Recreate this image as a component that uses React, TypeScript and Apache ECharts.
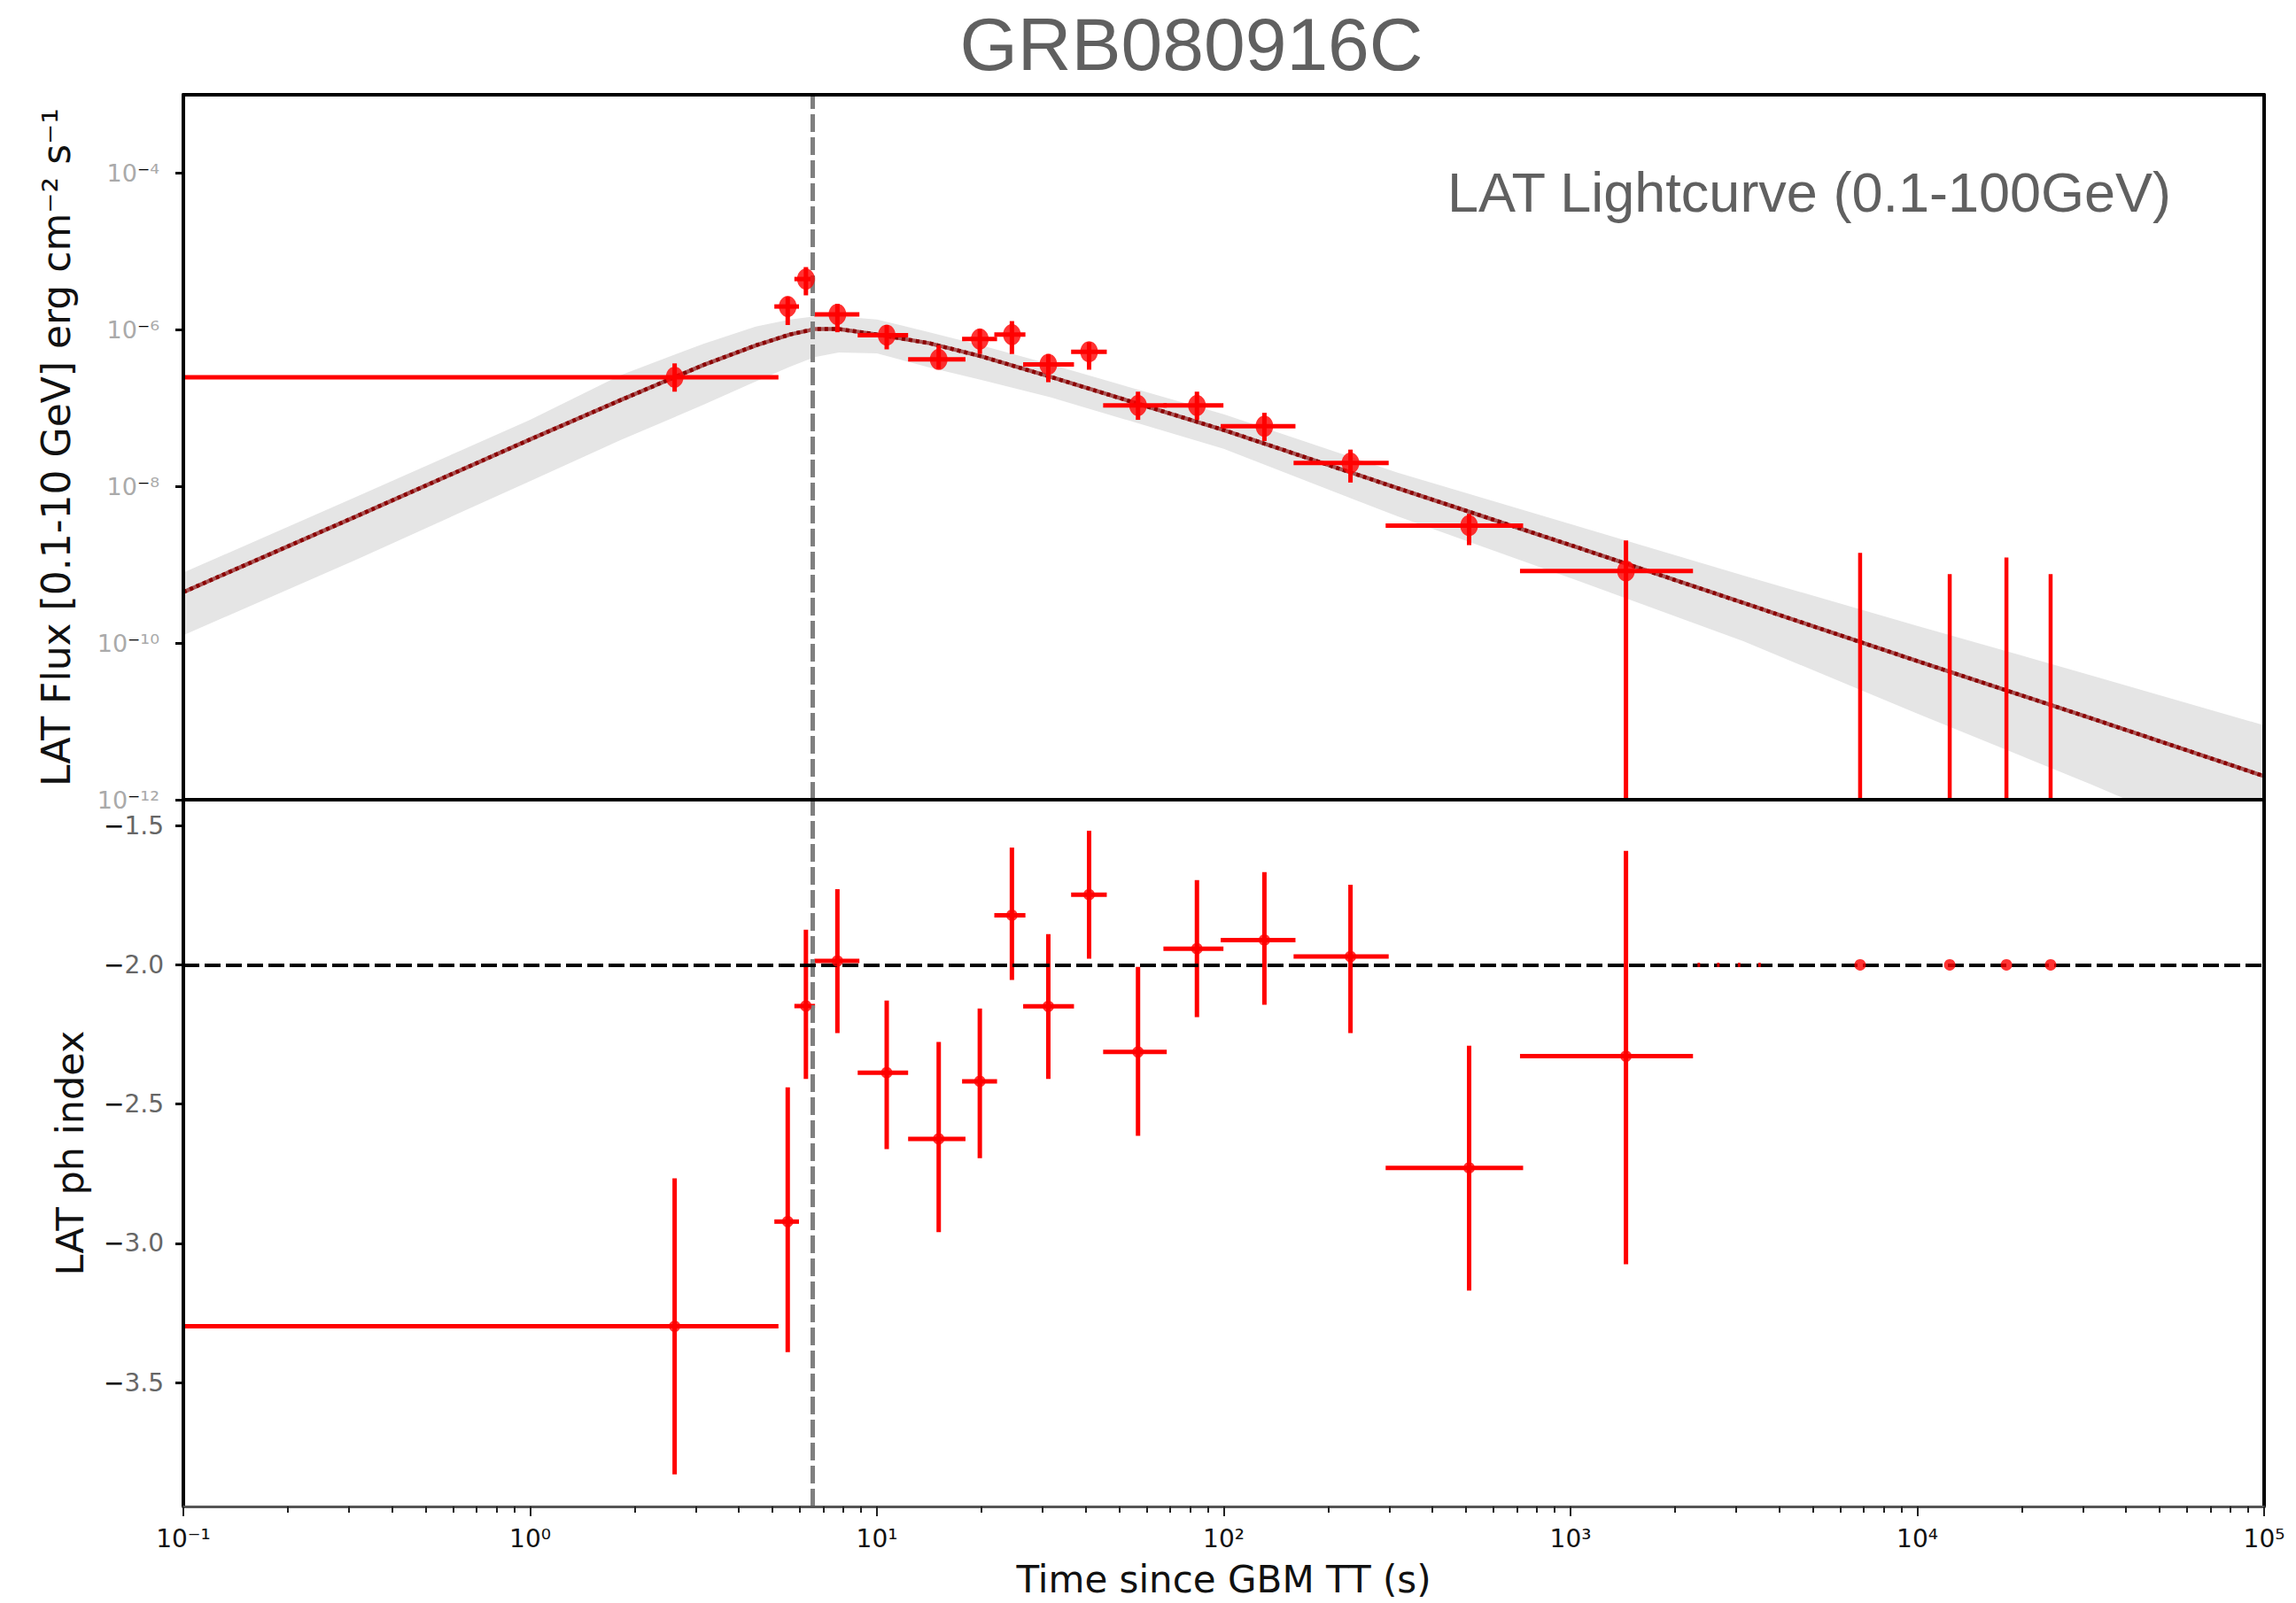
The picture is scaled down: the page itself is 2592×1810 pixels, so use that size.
import React, { useEffect, useRef } from "react";
import * as echarts from "echarts";

// ---------------- axes ----------------
const TIME_MIN = 0.1;
const TIME_MAX = 1e5;
const TIME_MAJOR_TICKS = [0.1, 1, 10, 100, 1000, 10000, 100000];
const TIME_DECADES = [0.1, 1, 10, 100, 1000, 10000];
const MINOR_MULTIPLIERS = [2, 3, 4, 5, 6, 7, 8, 9];
const TIME_MINOR_TICKS = TIME_DECADES.flatMap((d) => MINOR_MULTIPLIERS.map((m) => +(d * m).toPrecision(6)));

const FLUX_MIN = 1e-12;
const FLUX_MAX = 1e-3;
const FLUX_TICKS = [1e-12, 1e-10, 1e-8, 1e-6, 1e-4];

const INDEX_MIN = -3.945;
const INDEX_MAX = -1.407;
const INDEX_TICKS = [-3.5, -3.0, -2.5, -2.0, -1.5];
const INDEX_REFERENCE = -2.0;

const T_BREAK = 6.53;

// ---------------- time bins ----------------
const T_MID = [2.61, 5.53, 6.24, 7.69, 10.67, 15.07, 19.8, 24.5, 31.2, 40.9, 56.6, 83.7, 131, 232, 510, 1445];
const T_LO = [0.1, 5.06, 5.78, 6.6, 8.8, 12.3, 17.6, 21.8, 26.4, 36.3, 44.9, 67.0, 98, 159, 293, 715];
const T_HI = [5.2, 5.96, 6.63, 8.9, 12.3, 18.0, 22.2, 26.8, 37.0, 46.0, 68.5, 99.8, 161, 299, 730, 2255];

// ---------------- LAT flux ----------------
const FLUX = [2.48e-7, 1.98e-6, 4.44e-6, 1.57e-6, 8.53e-7, 4.18e-7, 7.6e-7, 8.67e-7, 3.61e-7, 5.24e-7, 1.08e-7, 1.08e-7, 5.87e-8, 1.99e-8, 3.16e-9, 8.32e-10];
const FLUX_LO = [1.62e-7, 1.15e-6, 2.75e-6, 9.3e-7, 5.62e-7, 3.16e-7, 4.9e-7, 4.9e-7, 2.14e-7, 3.09e-7, 7.08e-8, 7.08e-8, 3.8e-8, 1.12e-8, 1.78e-9, 1e-12];
const FLUX_HI = [3.72e-7, 2.63e-6, 6.31e-6, 2.14e-6, 1.15e-6, 6.31e-7, 1.02e-6, 1.29e-6, 4.9e-7, 6.92e-7, 1.62e-7, 1.62e-7, 8.71e-8, 2.95e-8, 4.47e-9, 2.04e-9];

// upper limits
const UL_T = [6840, 12400, 18070, 24230];
const UL_FLUX = [1.42e-9, 7.59e-10, 1.24e-9, 7.59e-10];
const UL_INDEX = [-2.0, -2.0, -2.0, -2.0];

// faint marks on the reference index line
const FAINT_T = [2344, 2667, 3063, 3508];
const FAINT_INDEX = [-2.0, -2.0, -2.0, -2.0];

// ---------------- photon index ----------------
const INDEX = [-3.298, -2.922, -2.148, -1.986, -2.387, -2.625, -2.418, -1.822, -2.149, -1.748, -2.313, -1.942, -1.911, -1.97, -2.729, -2.328];
const INDEX_LO = [-3.83, -3.391, -2.41, -2.245, -2.662, -2.96, -2.694, -2.054, -2.41, -1.978, -2.614, -2.188, -2.143, -2.245, -3.17, -3.075];
const INDEX_HI = [-2.767, -2.44, -1.874, -1.728, -2.128, -2.277, -2.157, -1.579, -1.89, -1.518, -2.007, -1.696, -1.667, -1.712, -2.29, -1.591];

// ---------------- model (broken power law) + band ----------------
const MODEL_T = [0.1, 0.316, 1, 1.82, 3.16, 4.47, 5.62, 6.61, 7.76, 10, 14.1, 20, 31.6, 100, 316, 1000, 3162, 10000, 31623, 100000];
const MODEL_FLUX = [4.47e-10, 4.17e-9, 3.98e-8, 1.26e-7, 3.55e-7, 6.31e-7, 8.71e-7, 1.02e-6, 1.02e-6, 8.71e-7, 6.76e-7, 4.57e-7, 2.51e-7, 5.25e-8, 9.55e-9, 1.78e-9, 3.24e-10, 5.89e-11, 1.1e-11, 2.0e-12];
const BAND_HI = [7.94e-10, 7.41e-9, 7.08e-8, 2.63e-7, 6.61e-7, 1.1e-6, 1.35e-6, 1.48e-6, 1.48e-6, 1.35e-6, 9.33e-7, 6.31e-7, 3.63e-7, 8.32e-8, 1.51e-8, 3.31e-9, 7.24e-10, 1.66e-10, 3.89e-11, 8.91e-12];
const BAND_LO = [1.26e-10, 1.17e-9, 1.17e-8, 3.89e-8, 1.1e-7, 2.19e-7, 3.39e-7, 4.47e-7, 5.13e-7, 5.01e-7, 3.31e-7, 2.29e-7, 1.38e-7, 3.02e-8, 4.17e-9, 6.76e-10, 1.05e-10, 1.26e-11, 1.58e-12, 1.78e-13];

// ---------------- styles ----------------
const RED = "#ff0000";
const AXIS_FONT = "DejaVu Sans";
const TITLE_FONT = "Liberation Sans";

const SUP: Record<string, string> = {
  "0": "⁰", "1": "¹", "2": "²", "3": "³", "4": "⁴",
  "5": "⁵", "6": "⁶", "7": "⁷", "8": "⁸", "9": "⁹", "-": "⁻",
};
const toSup = (s: string) => s.split("").map((c) => SUP[c] ?? c).join("");
const exp10 = (v: number) => Math.round(Math.log10(v));

function errorBarRender(lineWidth: number) {
  return (params: any, api: any) => {
    const x = api.value(0), xl = api.value(1), xh = api.value(2);
    const y = api.value(3), yl = api.value(4), yh = api.value(5);
    const pL = api.coord([xl, y]);
    const pR = api.coord([xh, y]);
    const pB = api.coord([x, yl]);
    const pT = api.coord([x, yh]);
    return {
      type: "group",
      children: [
        { type: "line", shape: { x1: pL[0], y1: pL[1], x2: pR[0], y2: pR[1] }, style: { stroke: RED, lineWidth } },
        { type: "line", shape: { x1: pB[0], y1: pB[1], x2: pT[0], y2: pT[1] }, style: { stroke: RED, lineWidth } },
      ],
    };
  };
}

export default function App() {
  const ref = useRef<HTMLDivElement>(null);

  useEffect(() => {
    if (!ref.current) return;
    const chart = echarts.init(ref.current, undefined, { renderer: "svg" });

    const logAxisBase = { type: "log", logBase: 10, min: TIME_MIN, max: TIME_MAX, splitLine: { show: false }, z: 10 };
    const fluxAxisBase = { type: "log", logBase: 10, min: FLUX_MIN, max: FLUX_MAX, splitLine: { show: false }, z: 10 };
    const idxAxisBase = { type: "value", min: INDEX_MIN, max: INDEX_MAX, splitLine: { show: false }, z: 10 };
    const spine = { show: true, lineStyle: { color: "#000", width: 4 } };

    const option: any = {
      animation: false,
      backgroundColor: "#ffffff",
      grid: [
        { left: 207, top: 107, width: 2349, height: 796 },
        { left: 207, top: 903, width: 2349, height: 798 },
      ],
      graphic: [
        {
          type: "text", x: 1345, y: 50, z: 20,
          style: {
            text: "GRB080916C", fontFamily: TITLE_FONT, fontSize: 84, fill: "#606060",
            align: "center", verticalAlign: "middle", textAlign: "center", textVerticalAlign: "middle",
          },
        },
        {
          type: "text", x: 1634, y: 217, z: 20,
          style: {
            text: "LAT Lightcurve (0.1-100GeV)", fontFamily: TITLE_FONT, fontSize: 63, fill: "#606060",
            align: "left", verticalAlign: "middle", textAlign: "left", textVerticalAlign: "middle",
          },
        },
      ],
      xAxis: [
        { ...logAxisBase, gridIndex: 0, position: "bottom", axisLine: spine, axisTick: { show: false }, axisLabel: { show: false } },
        { ...logAxisBase, gridIndex: 0, position: "top", axisLine: spine, axisTick: { show: false }, axisLabel: { show: false } },
        {
          ...logAxisBase, gridIndex: 1, position: "bottom",
          axisLine: { show: true, lineStyle: { color: "#555", width: 3 } },
          axisTick: { show: true, inside: false, length: 11, customValues: TIME_MAJOR_TICKS, lineStyle: { color: "#222", width: 2 } },
          axisLabel: {
            show: true, customValues: TIME_MAJOR_TICKS, margin: 22, fontFamily: AXIS_FONT, fontSize: 28, color: "#111",
            formatter: (v: number) => "10" + toSup(String(exp10(v))),
          },
          name: "Time since GBM TT (s)", nameLocation: "middle", nameGap: 61,
          nameTextStyle: { fontFamily: AXIS_FONT, fontSize: 42, color: "#111" },
        },
        {
          ...logAxisBase, gridIndex: 1, position: "bottom",
          axisLine: { show: false },
          axisTick: { show: true, inside: false, length: 7, customValues: TIME_MINOR_TICKS, lineStyle: { color: "#222", width: 2 } },
          axisLabel: { show: false },
        },
      ],
      yAxis: [
        {
          ...fluxAxisBase, gridIndex: 0, position: "left", axisLine: spine,
          axisTick: { show: true, inside: false, length: 9, customValues: FLUX_TICKS, lineStyle: { color: "#000", width: 3 } },
          axisLabel: {
            show: true, customValues: FLUX_TICKS, margin: 27,
            formatter: (v: number) => `{b|10}{m|⁻}{b|${toSup(String(-exp10(v)))}}`,
            rich: {
              b: { fontFamily: AXIS_FONT, fontSize: 27, color: "#aaaaaa" },
              m: { fontFamily: AXIS_FONT, fontSize: 27, color: "#000" },
            },
          },
          name: "LAT Flux [0.1-10 GeV] erg cm⁻² s⁻¹", nameLocation: "middle", nameGap: 122, nameRotate: 90,
          nameTextStyle: { fontFamily: AXIS_FONT, fontSize: 44, color: "#111" },
        },
        { ...fluxAxisBase, gridIndex: 0, position: "right", axisLine: spine, axisTick: { show: false }, axisLabel: { show: false } },
        {
          ...idxAxisBase, gridIndex: 1, position: "left", axisLine: spine,
          axisTick: { show: true, inside: false, length: 9, customValues: INDEX_TICKS, lineStyle: { color: "#000", width: 3 } },
          axisLabel: {
            show: true, customValues: INDEX_TICKS, margin: 22,
            formatter: (v: number) => `{m|−}{d|${Math.abs(v).toFixed(1)}}`,
            rich: {
              m: { fontFamily: AXIS_FONT, fontSize: 28, color: "#000" },
              d: { fontFamily: AXIS_FONT, fontSize: 28, color: "#666" },
            },
          },
          name: "LAT ph index", nameLocation: "middle", nameGap: 107, nameRotate: 90,
          nameTextStyle: { fontFamily: AXIS_FONT, fontSize: 43, color: "#111" },
        },
        { ...idxAxisBase, gridIndex: 1, position: "right", axisLine: spine, axisTick: { show: false }, axisLabel: { show: false } },
      ],
      series: [
        // ---- top panel ----
        {
          type: "custom", name: "band", xAxisIndex: 0, yAxisIndex: 0, z: 1, clip: true, silent: true,
          data: [[MODEL_T[0], MODEL_FLUX[0]]],
          encode: { x: 0, y: 1 },
          renderItem: (params: any, api: any) => {
            const pts: number[][] = [];
            for (let i = 0; i < MODEL_T.length; i++) pts.push(api.coord([MODEL_T[i], BAND_HI[i]]));
            for (let i = MODEL_T.length - 1; i >= 0; i--) pts.push(api.coord([MODEL_T[i], BAND_LO[i]]));
            const cs = params.coordSys;
            return {
              type: "polygon",
              shape: { points: pts },
              style: { fill: "#e5e5e5", stroke: "none" },
              clipPath: { type: "rect", shape: { x: cs.x, y: cs.y, width: cs.width, height: cs.height } },
            };
          },
        },
        {
          type: "line", name: "model", xAxisIndex: 0, yAxisIndex: 0, z: 3, showSymbol: false, silent: true,
          data: MODEL_T.map((t, i) => [t, MODEL_FLUX[i]]),
          lineStyle: { color: "#a85454", width: 4.5 },
        },
        {
          type: "line", name: "model-dash", xAxisIndex: 0, yAxisIndex: 0, z: 3, showSymbol: false, silent: true,
          data: MODEL_T.map((t, i) => [t, MODEL_FLUX[i]]),
          lineStyle: { color: "#8b0000", width: 4.5, type: [4, 4] },
          markLine: {
            silent: true, symbol: ["none", "none"], label: { show: false },
            lineStyle: { color: "#808080", width: 5, type: [20, 6] },
            data: [{ xAxis: T_BREAK }],
          },
        },
        {
          type: "custom", name: "flux-err", xAxisIndex: 0, yAxisIndex: 0, z: 4, silent: true,
          data: T_MID.map((t, i) => [t, T_LO[i], T_HI[i], FLUX[i], FLUX_LO[i], FLUX_HI[i]]),
          encode: { x: [0, 1, 2], y: [3, 4, 5] },
          renderItem: errorBarRender(5),
        },
        {
          type: "custom", name: "flux-ul", xAxisIndex: 0, yAxisIndex: 0, z: 4, silent: true,
          data: UL_T.map((t, i) => [t, UL_FLUX[i], FLUX_MIN]),
          encode: { x: 0, y: [1, 2] },
          renderItem: (params: any, api: any) => {
            const a = api.coord([api.value(0), api.value(1)]);
            const b = api.coord([api.value(0), api.value(2)]);
            return { type: "line", shape: { x1: a[0], y1: a[1], x2: b[0], y2: b[1] }, style: { stroke: RED, lineWidth: 4.5 } };
          },
        },
        {
          type: "scatter", name: "flux", xAxisIndex: 0, yAxisIndex: 0, z: 5, silent: true,
          symbol: "circle", symbolSize: [20, 24],
          data: T_MID.map((t, i) => [t, FLUX[i]]),
          itemStyle: { color: RED },
        },
        // ---- bottom panel ----
        {
          type: "line", name: "refs", xAxisIndex: 2, yAxisIndex: 2, z: 2, silent: true, data: [],
          markLine: {
            silent: true, symbol: ["none", "none"], label: { show: false },
            data: [
              { xAxis: T_BREAK, lineStyle: { color: "#808080", width: 5, type: [20, 6] } },
              { yAxis: INDEX_REFERENCE, lineStyle: { color: "#000", width: 4, type: [18, 6] } },
            ],
          },
        },
        {
          type: "custom", name: "index-err", xAxisIndex: 2, yAxisIndex: 2, z: 4, silent: true,
          data: T_MID.map((t, i) => [t, T_LO[i], T_HI[i], INDEX[i], INDEX_LO[i], INDEX_HI[i]]),
          encode: { x: [0, 1, 2], y: [3, 4, 5] },
          renderItem: errorBarRender(5),
        },
        {
          type: "scatter", name: "index", xAxisIndex: 2, yAxisIndex: 2, z: 5, silent: true,
          symbol: "circle", symbolSize: 13,
          data: T_MID.map((t, i) => [t, INDEX[i]]).concat(UL_T.map((t, i) => [t, UL_INDEX[i]])),
          itemStyle: { color: RED },
        },
        {
          type: "scatter", name: "faint", xAxisIndex: 2, yAxisIndex: 2, z: 5, silent: true,
          symbol: "rect", symbolSize: [3, 5],
          data: FAINT_T.map((t, i) => [t, FAINT_INDEX[i]]),
          itemStyle: { color: RED },
        },
      ],
    };

    chart.setOption(option);
    return () => chart.dispose();
  }, []);

  return (
    <div
      ref={ref}
      style={{ position: "fixed", left: 0, top: 0, width: 2592, height: 1810, background: "#ffffff" }}
    />
  );
}
